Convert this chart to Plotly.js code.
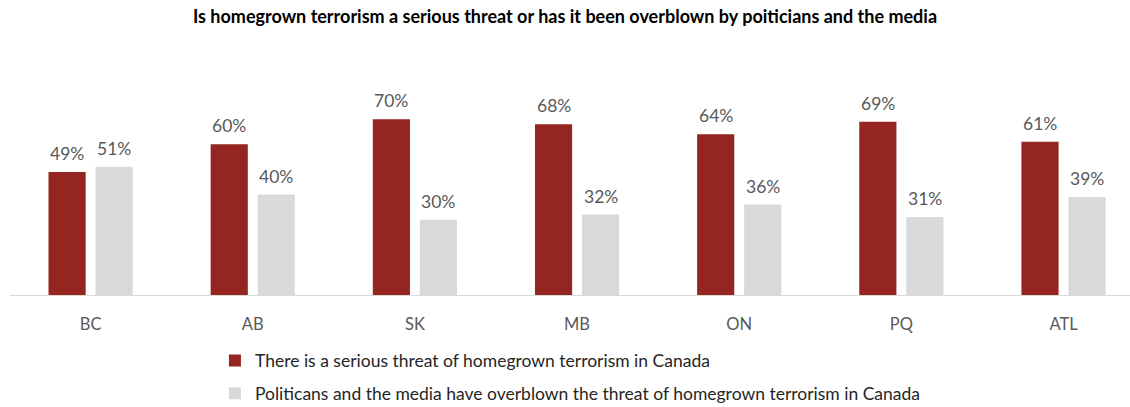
<!DOCTYPE html>
<html>
<head>
<meta charset="utf-8">
<script src="https://cdn.plot.ly/plotly-3.0.1.min.js"></script>
<style>html,body{margin:0;padding:0;background:#fff;}#chart{width:1130px;height:407px;}</style>
</head>
<body>
<div id="chart"></div>
<script>
const regions = ["BC", "AB", "SK", "MB", "ON", "PQ", "ATL"];
const seriousThreat = [49, 60, 70, 68, 64, 69, 61];
const overblown = [51, 40, 30, 32, 36, 31, 39];
const seriesNames = [
  "There is a serious threat of homegrown terrorism in Canada",
  "Politicans and the media have overblown the threat of homegrown terrorism in Canada"
];
const chartTitle = "Is homegrown terrorism a serious threat or has it been overblown by poiticians and the media";

const FONT = "Lato, 'Noto Sans', 'Liberation Sans', sans-serif";
const txtColor = "#595959";

const traces = [
  {
    type: "bar", x: regions, y: seriousThreat, name: seriesNames[0],
    marker: {color: "#952521"},
    legendgroup: "a", hoverinfo: "x+y"
  },
  {
    type: "bar", x: regions, y: overblown, name: seriesNames[1],
    marker: {color: "#d9d9d9"},
    legendgroup: "b", hoverinfo: "x+y"
  }
];

// data labels derived from the series arrays
const annotations = [];
[seriousThreat, overblown].forEach((vals, si) => {
  vals.forEach((v, i) => {
    annotations.push({
      x: regions[i], y: v, xref: "x", yref: "y",
      text: v + "%", showarrow: false,
      xanchor: "center", yanchor: "bottom",
      xshift: si === 0 ? -23.5 : 23.5, yshift: 6,
      font: {family: FONT, size: 17.5, color: txtColor}
    });
  });
});

const layout = {
  width: 1130, height: 407,
  paper_bgcolor: "#fff", plot_bgcolor: "#fff",
  margin: {l: 10, r: 0, t: 94, b: 112, autoexpand: false},
  font: {family: FONT, color: txtColor},
  title: {
    text: "<b>" + chartTitle + "</b>",
    font: {family: FONT, size: 18, color: "#000"},
    x: 0.5, xanchor: "center", y: 0.958, yanchor: "middle"
  },
  barmode: "group",
  bargap: 0.42,
  bargroupgap: 0.21,
  xaxis: {
    type: "category",
    range: [-0.497, 6.41],
    showline: true, linecolor: "#d9d9d9", linewidth: 1,
    showgrid: false, zeroline: false, ticks: "",
    ticklabelstandoff: 14,
    tickfont: {family: FONT, size: 16.5, color: txtColor},
    fixedrange: true
  },
  yaxis: {
    range: [0, 80], visible: false, showgrid: false, zeroline: false, fixedrange: true
  },
  annotations: annotations,
  showlegend: true,
  legend: {
    orientation: "v", x: 0.183, xanchor: "left", y: -0.237, yanchor: "top",
    font: {family: FONT, size: 17.5, color: "#262626"},
    traceorder: "grouped", tracegroupgap: 7,
    bgcolor: "rgba(0,0,0,0)"
  }
};

Plotly.newPlot("chart", traces, layout, {displayModeBar: false, staticPlot: true});
</script>
</body>
</html>
